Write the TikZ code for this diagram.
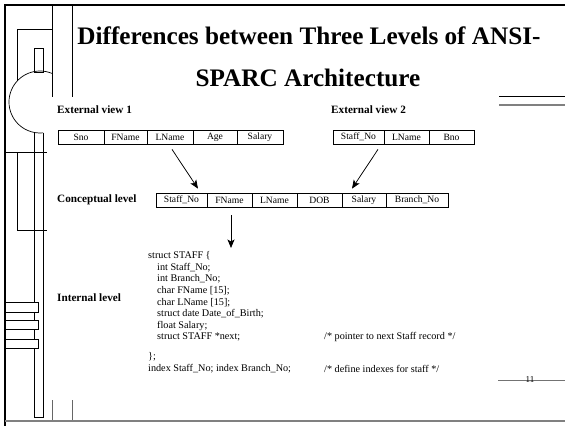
\documentclass[tikz,border=0pt]{standalone}
\usepackage{fontspec}
\setmainfont{Liberation Serif}
\usetikzlibrary{arrows.meta}
\begin{document}
\begin{tikzpicture}[x=1pt,y=1pt,
  cell/.style={draw=black, line width=0.8pt, minimum height=14pt, inner sep=0pt, font=\fontsize{9.6}{11}\selectfont},
  lbl/.style={anchor=west, inner sep=0pt, font=\bfseries\fontsize{11.2}{13}\selectfont},
  code/.style={anchor=west, inner sep=0pt, font=\fontsize{10.2}{12}\selectfont},
  ttl/.style={inner sep=0pt, font=\bfseries\fontsize{25.2}{29}\selectfont},
  arr/.style={-{Stealth[length=8.5pt,width=7pt,inset=2pt]}, line width=0.75pt},
  deco/.style={line width=0.7pt, draw=black},
  grayline/.style={draw=black!50, line width=1.2pt}
]
\useasboundingbox (0,0) rectangle (565,-426);
\fill[white] (0,0) rectangle (565,-426);
% ---- frame decoration ----
\draw[line width=2.5pt] (5,-4) -- (5,-426);
\draw[line width=1.5pt] (4,-5) -- (565,-5);
\draw[deco] (52,-5) -- (52,-97);
\draw[deco] (72,-5) -- (72,-97);
\draw[deco] (52,-29) -- (17,-29) -- (17,-81);
\draw[deco] (34,-48) rectangle (43,-72);
\draw[deco] (51.86,-73.36) arc[start angle=67.5, end angle=276, radius=31pt];
\draw[deco] (34,-132.4) -- (34,-417) -- (43,-417) -- (43,-132.8);
\draw[deco] (5,-152) -- (47,-152);
\draw[deco] (17,-152) -- (17,-230) -- (47,-230);
\draw[deco, fill=white] (5,-302) rectangle (38,-312);
\draw[deco, fill=white] (5,-320) rectangle (38,-329);
\draw[deco, fill=white] (5,-339) rectangle (38,-348);
\draw[deco, draw=black!60] (52,-400) -- (52,-421);
\draw[deco, draw=black!60] (72,-400) -- (72,-421);
\draw[line width=1pt] (499,-96) -- (565,-96);
\draw[draw=black!50, line width=2.5pt] (499,-105) -- (565,-105);
\draw[grayline] (5,-421) -- (565,-421);
\draw[draw=black!55, line width=1pt] (498,-380) -- (565,-380);
\node[inner sep=0pt, font=\fontsize{9}{10}\selectfont] (pg) at (530,-380) {11};
% ---- title ----
\node[ttl] (title1) at (309,-36) {Differences between Three Levels of ANSI-};
\node[ttl] (title2) at (308,-78) {SPARC Architecture};
% ---- labels ----
\node[lbl] (ev1) at (57,-110) {External view 1};
\node[lbl] (ev2) at (331,-110) {External view 2};
\node[lbl] (cl) at (57,-200) {Conceptual level};
\node[lbl] (il) at (57,-298) {Internal level};
% ---- external view 1 ----
\node[cell, minimum width=46pt] (t1a) at (81,-137) {Sno};
\node[cell, minimum width=43pt] (t1b) at (125.5,-137) {FName};
\node[cell, minimum width=46pt] (t1c) at (170,-137) {LName};
\node[cell, minimum width=44pt] (t1d) at (215,-137) {Age};
\node[cell, minimum width=46pt] (t1e) at (260,-137) {Salary};
% ---- external view 2 ----
\node[cell, minimum width=51pt] (t2a) at (358.5,-137) {Staff\_No};
\node[cell, minimum width=45pt] (t2b) at (406.5,-137) {LName};
\node[cell, minimum width=45pt] (t2c) at (451.5,-137) {Bno};
% ---- conceptual ----
\node[cell, minimum width=51pt] (c1) at (181.5,-200) {Staff\_No};
\node[cell, minimum width=45pt] (c2) at (229.5,-200) {FName};
\node[cell, minimum width=45pt] (c3) at (274.5,-200) {LName};
\node[cell, minimum width=45pt] (c4) at (319.5,-200) {DOB};
\node[cell, minimum width=44pt] (c5) at (364,-200) {Salary};
\node[cell, minimum width=62pt] (c6) at (417,-200) {Branch\_No};
% ---- internal ----
\node[code] (k1) at (148,-256) {struct STAFF \{};
\node[code] (k2) at (157,-267.6) {int Staff\_No;};
\node[code] (k3) at (157,-279.2) {int Branch\_No;};
\node[code] (k4) at (157,-290.8) {char FName [15];};
\node[code] (k5) at (157,-302.4) {char LName [15];};
\node[code] (k6) at (157,-314) {struct date Date\_of\_Birth;};
\node[code] (k7) at (157,-325.6) {float Salary;};
\node[code] (k8) at (157,-337.2) {struct STAFF *next;};
\node[code] (k9) at (148,-357) {\};};
\node[code] (k10) at (148,-368.6) {index Staff\_No; index Branch\_No;};
\node[code] (m1) at (324,-337.2) {/* pointer to next Staff record */};
\node[code] (m2) at (324,-368.6) {/* define indexes for staff */};
% ---- arrows ----
\coordinate (a3e) at (231,-248);
\draw[arr] ([shift={(2,-5)}]t1c.south) -- ([shift={(16.5,4)}]c1.north);
\draw[arr] ([shift={(19.5,-5)}]t2a.south) -- ([shift={(-12,4)}]c5.north);
\draw[arr] ([shift={(1.5,-8)}]c2.south) -- (a3e);
\end{tikzpicture}
\end{document}
